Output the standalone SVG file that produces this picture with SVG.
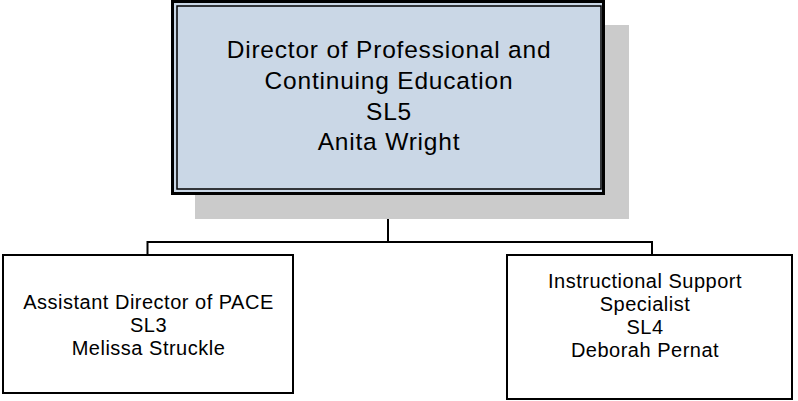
<svg xmlns="http://www.w3.org/2000/svg" width="798" height="401" viewBox="0 0 798 401">
<style>
.t{font-family:"Liberation Sans",Arial,sans-serif;fill:#000;text-anchor:middle}
.big{font-size:24.5px;letter-spacing:0.8px}
.small{font-size:20px;letter-spacing:0.5px}
.box{fill:#fff;stroke:#000;stroke-width:2}
.conn{fill:none;stroke:#000;stroke-width:2}
</style>
<rect width="798" height="401" fill="#fff"/>
<g id="connectors">
<path class="conn" d="M388 195V242M147.5 242H652M147.5 241V255M652 241V255"/>
</g>
<g id="director">
<rect x="195" y="25" width="434" height="194" fill="#CBCBCB"/>
<rect x="172.5" y="1.5" width="431" height="192" fill="#CAD7E6" stroke="#000" stroke-width="3"/>
<rect x="177" y="6" width="424" height="183" fill="none" stroke="#000" stroke-width="1.5"/>
<text class="t big" x="389" y="58">Director of Professional and</text>
<text class="t big" x="389" y="89">Continuing Education</text>
<text class="t big" x="389" y="119.5">SL5</text>
<text class="t big" x="389" y="150">Anita Wright</text>
</g>
<g id="assistant">
<rect class="box" x="3" y="255" width="290" height="138"/>
<text class="t small" x="148.5" y="309">Assistant Director of PACE</text>
<text class="t small" x="148.5" y="332">SL3</text>
<text class="t small" x="148.5" y="355">Melissa Struckle</text>
</g>
<g id="specialist">
<rect class="box" x="507" y="255" width="285" height="144"/>
<text class="t small" x="645" y="288">Instructional Support</text>
<text class="t small" x="645" y="311">Specialist</text>
<text class="t small" x="645" y="334">SL4</text>
<text class="t small" x="645" y="357">Deborah Pernat</text>
</g>
</svg>
